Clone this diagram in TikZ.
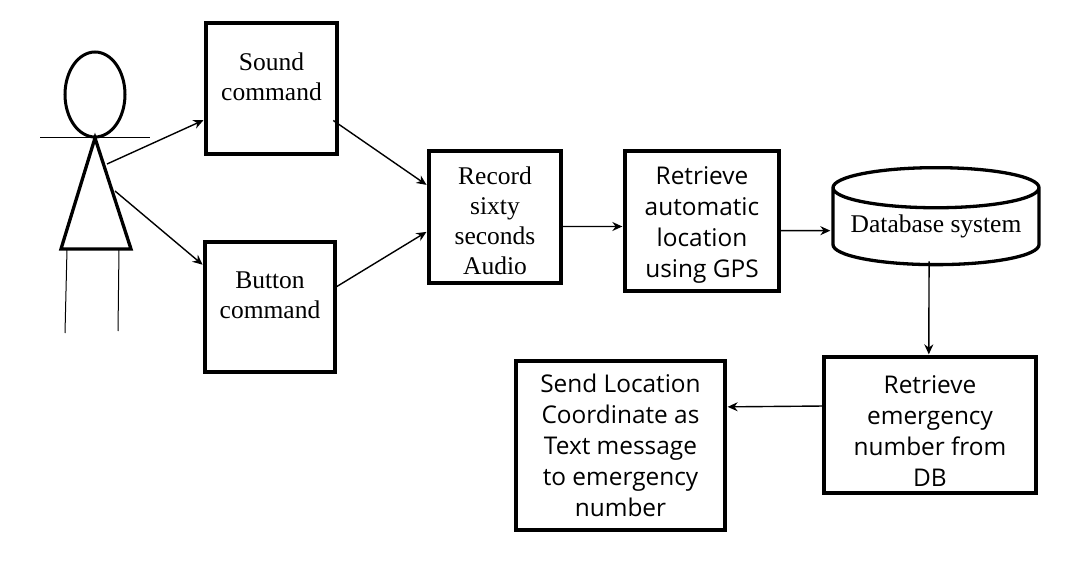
\documentclass[tikz,border=0pt]{standalone}
\usepackage{fontspec}
\setmainfont{Liberation Serif}
\newfontfamily\boxsans{Open Sans}
\usetikzlibrary{shapes.geometric,arrows.meta}

\begin{document}
\begin{tikzpicture}[x=1pt,y=-1pt,>={Stealth[length=10pt,width=9pt]},
	serifbox/.style={shape=rectangle,draw,line width=3.3pt,align=center,inner sep=0pt,
		font=\fontsize{25.5}{30}\selectfont},
	sansbox/.style={shape=rectangle,draw,line width=3.3pt,align=center,inner sep=0pt,
		font=\boxsans\fontsize{24.4}{31}\selectfont},
	link/.style={->,line width=1.4pt,shorten >=1pt},
	bodyline/.style={line width=3.3pt,line join=miter},
	limb/.style={line width=1pt}]
	\useasboundingbox (0,0) rectangle (1080,570);

	% create the nodes.
	\node (sound) [serifbox,minimum width=131pt,minimum height=131pt] at (271.5,88.5) {Sound\\command\\[-6pt]\mbox{}};
	\node (button) [serifbox,minimum width=130pt,minimum height=130pt] at (270,307) {Button\\command\\[-6pt]\mbox{}};
	\node (record) [serifbox,minimum width=132pt,minimum height=132pt] at (495,217) {\mbox{}\\[-4pt]Record\\sixty\\seconds\\Audio};
	\node (gps) [sansbox,minimum width=154pt,minimum height=140pt] at (702,221) {\mbox{}\\[-6pt]Retrieve\\automatic\\location\\using GPS};
	\node (db) [shape=cylinder,shape border rotate=90,aspect=0.235,draw,line width=3.3pt,inner sep=0pt,
		minimum width=206pt,minimum height=97pt,
		font=\fontsize{25.5}{30}\selectfont] at (936,227) {\raisebox{-5pt}[0pt][0pt]{Database system}};
	\node (number) [sansbox,minimum width=212pt,minimum height=136pt] at (930,425) {\mbox{}\\[-2pt]Retrieve\\emergency\\number from\\DB};
	\node (send) [sansbox,minimum width=209pt,minimum height=169pt] at (620.5,445.5) {Send Location\\Coordinate as\\Text message\\to emergency\\number};

	% the person
	\node (head) [shape=ellipse,draw,line width=3pt,inner sep=0pt,minimum width=60pt,minimum height=85pt] at (95,94.5) {};
	\coordinate (neck) at (95,138);
	\coordinate (hipl) at (61,249);
	\coordinate (hipr) at (131,249);
	\coordinate (armsl) at (40,137);
	\coordinate (armsr) at (150,137);
	\coordinate (legla) at (67,249);
	\coordinate (leglb) at (65,333);
	\coordinate (legra) at (119,249);
	\coordinate (legrb) at (118,331);
	\coordinate (upper) at (107,164);
	\coordinate (lower) at (115,191);
	\draw[bodyline] (neck) -- (hipl) -- (hipr) -- cycle;
	\draw[limb] (armsl) -- (armsr);
	\draw[limb] (legla) -- (leglb);
	\draw[limb] (legra) -- (legrb);

	% connect the nodes
	\draw[link] (upper) -- (sound.205);
	\draw[link] (lower) -- (button.148);
	\draw[link,shorten <=-6.5pt] (sound.-28) -- (record.155);
	\draw[link] (button.17) -- (record.192);
	\draw[link] (record.-8) -- (gps.184);
	\draw[link] (gps.-7) -- (db.182);
	\draw[link,shorten <=-5pt] (db.-100) -- (number.91);
	\draw[link] (number.170) -- (send.20);
\end{tikzpicture}
\end{document}
